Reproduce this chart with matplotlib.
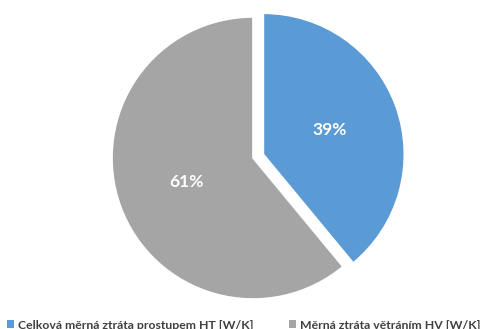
import matplotlib
matplotlib.use("Agg")
import matplotlib.pyplot as plt
from matplotlib.patches import Patch

categories = ["Celková měrná ztráta prostupem HT [W/K]", "Měrná ztráta větráním HV [W/K]"]
shares = [39, 61]
colors = ["#5B9BD5", "#A5A5A5"]
explode = [0.078, 0.0]

plt.rcParams["font.family"] = ["Lato", "DejaVu Sans"]

W, H, DPI = 483, 329, 100
fig = plt.figure(figsize=(W / DPI, H / DPI), dpi=DPI)
ax = fig.add_axes([0, 0, 1, 1])

R = 141.0  # pie radius in pixels
cx, cy = 253.0, 158.0  # pie centre in pixels from top-left

wedges, texts, autotexts = ax.pie(
    shares,
    colors=colors,
    explode=explode,
    startangle=90,
    counterclock=False,
    autopct=lambda p: f"{p:.0f}%",
    pctdistance=0.5,
    wedgeprops=dict(edgecolor="white", linewidth=1.2),
    textprops=dict(color="white", fontsize=12.5, fontweight="bold"),
)

ax.set_xlim(-cx / R, (W - cx) / R)
ax.set_ylim(-(H - cy) / R, cy / R)
ax.set_aspect("equal")
ax.axis("off")

handles = [Patch(facecolor=c, edgecolor="none") for c in colors]
leg = fig.legend(
    handles,
    categories,
    loc="lower center",
    bbox_to_anchor=(0.505, -0.038),
    ncol=2,
    frameon=False,
    handlelength=0.6,
    handleheight=0.6,
    handletextpad=0.35,
    columnspacing=2.85,
    prop=dict(weight="bold", size=8.8),
)
for t in leg.get_texts():
    t.set_color("#404040")

fig.savefig("out.png", dpi=DPI)
